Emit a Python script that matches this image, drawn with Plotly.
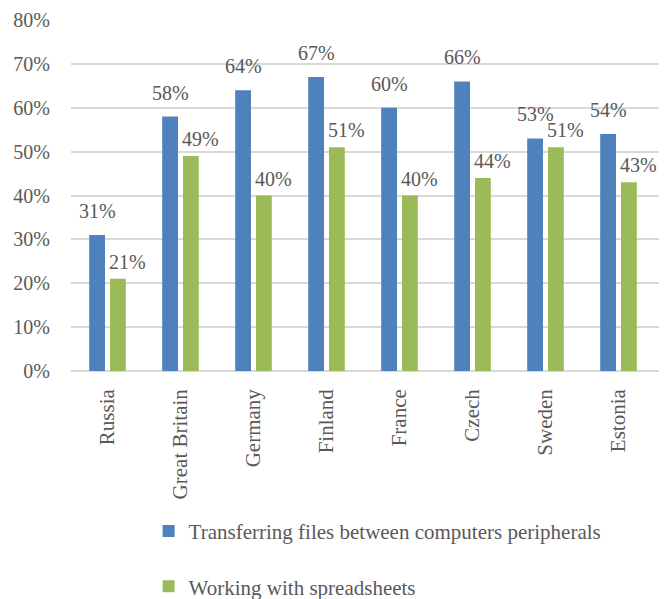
import plotly.graph_objects as go

categories = ["Russia", "Great Britain", "Germany", "Finland", "France", "Czech", "Sweden", "Estonia"]
transferring = [31, 58, 64, 67, 60, 66, 53, 54]
spreadsheets = [21, 49, 40, 51, 40, 44, 51, 43]
series_names = ["Transferring files between computers peripherals", "Working with spreadsheets"]
y_ticks = [0, 10, 20, 30, 40, 50, 60, 70, 80]

FONT = "Liberation Serif"
TXT = "#595959"
COLORS = ["#4F81BD", "#9BBB59"]

fig = go.Figure()
for vals, name, col, grp in [(transferring, series_names[0], COLORS[0], "a"),
                             (spreadsheets, series_names[1], COLORS[1], "b")]:
    fig.add_trace(go.Bar(
        x=categories, y=[v / 100 for v in vals], name=name,
        marker_color=col, marker_line_width=0, legendgroup=grp,
    ))

# data labels (label placement style per series: x offset, y offset in px)
label_style = [(transferring, -10.5, 11), (spreadsheets, 20, 4)]
for vals, xs, ys in label_style:
    for c, v in zip(categories, vals):
        fig.add_annotation(
            x=c, y=v / 100, xref="x", yref="y", text=f"{v}%",
            showarrow=False, xanchor="center", yanchor="bottom",
            xshift=xs, yshift=ys,
            font=dict(family=FONT, size=20, color=TXT),
        )

fig.update_layout(
    width=672, height=599,
    margin=dict(l=71, r=13, t=20, b=228, autoexpand=False),
    paper_bgcolor="white", plot_bgcolor="white",
    barmode="group", bargap=0.43, bargroupgap=0.24,
    font=dict(family=FONT, size=20, color=TXT),
    showlegend=True,
    legend=dict(x=0.132, y=-0.3985, xanchor="left", yanchor="top",
                orientation="v", tracegroupgap=25,
                font=dict(family=FONT, size=21, color=TXT)),
)
fig.update_yaxes(
    range=[0, 0.8], tickvals=[t / 100 for t in y_ticks],
    ticktext=[f"{t}%" for t in y_ticks],
    showgrid=True, gridcolor="#D9D9D9", gridwidth=1.5,
    zeroline=True, zerolinecolor="#D9D9D9", zerolinewidth=1.5,
    showline=False, ticks="", ticklabelstandoff=20, automargin=False,
    tickfont=dict(family=FONT, size=20, color=TXT),
)
fig.update_xaxes(
    tickangle=-90, showline=False, ticks="", ticklabelstandoff=13, automargin=False,
    tickfont=dict(family=FONT, size=21, color=TXT),
)

fig.write_html("out.html")
